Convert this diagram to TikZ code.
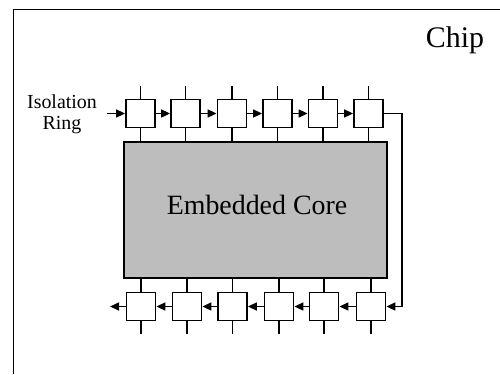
\documentclass[tikz,border=0pt]{standalone}
\usepackage{fontspec}
\setmainfont{Liberation Serif}
\usetikzlibrary{arrows.meta}
\begin{document}
\begin{tikzpicture}[x=1bp,y=-1bp,
  cell/.style={draw,line width=1.8bp,minimum width=29bp,minimum height=28bp,inner sep=0pt},
  wire/.style={line width=1.6bp},
  flow/.style={line width=1.6bp,-{Triangle[length=9bp,width=8bp]}},
  corebox/.style={draw,line width=1.6bp,fill=black!26,minimum width=263bp,minimum height=136bp,inner sep=0pt}]
\useasboundingbox (0,0) rectangle (500,374);
\draw[line width=1bp] (13,374) -- (13,9) -- (500,9);
\node[font=\fontsize{30}{30}\selectfont,anchor=base] (chip) at (455,47) {Chip};
\node[corebox] (core) at (255.5,210) {};
\node[font=\fontsize{28}{28}\selectfont] (coretxt) at (257,205) {Embedded Core};
\node[font=\fontsize{20}{21}\selectfont,align=center] (iso) at (62,114) {Isolation\\Ring};
\foreach \i/\x in {1/140.5,2/185.5,3/232,4/277.5,5/323,6/368.5}{
  \node[cell] (t\i) at (\x,113.5) {};
  \coordinate (tu\i) at (\x,86);
  \draw[wire] (t\i.north) -- (tu\i);
  \draw[wire] (t\i.south) -- (t\i.south |- core.north);
}
\foreach \i/\x in {1/141,2/187,3/232.5,4/279,5/324,6/371}{
  \node[cell] (b\i) at (\x,306.5) {};
  \coordinate (bd\i) at (\x,334);
  \draw[wire] (b\i.south) -- (bd\i);
  \draw[wire] (b\i.north) -- (b\i.north |- core.south);
}
\coordinate (in) at (107,113.5);
\coordinate (out) at (110,306.5);
\coordinate (r1) at (402,113.5);
\coordinate (r2) at (402,306.5);
\draw[flow] (in) -- (t1.west);
\foreach \a/\b in {1/2,2/3,3/4,4/5,5/6}{
  \draw[flow] (t\a.east) -- (t\b.west);
  \draw[flow] (b\b.west) -- (b\a.east);
}
\draw[flow] (t6.east) -- (r1) -- (r2) -- (b6.east);
\draw[flow] (b1.west) -- (out);
\end{tikzpicture}
\end{document}
